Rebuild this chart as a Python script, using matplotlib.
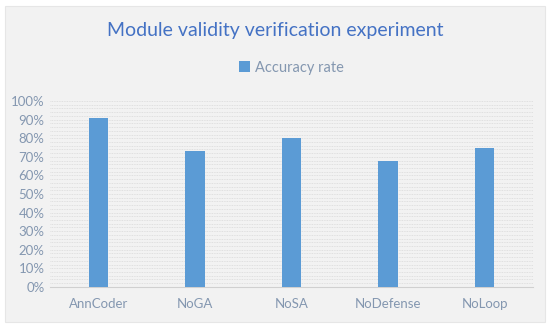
import matplotlib.pyplot as plt
from matplotlib.patches import Rectangle
import numpy as np

models = ['AnnCoder', 'NoGA', 'NoSA', 'NoDefense', 'NoLoop']
accuracy = [91, 73, 80, 68, 75]
yticks = list(range(0, 101, 10))

plt.rcParams['font.family'] = ['Lato', 'DejaVu Sans']

fig = plt.figure(figsize=(5.5, 3.26), dpi=100)
fig.patch.set_facecolor('white')
# light gray chart area with white margin
bg = Rectangle((5/550, 4/326), 540/550, 316/326, transform=fig.transFigure,
               facecolor='#f2f2f2', edgecolor='#e6e6e6', lw=0.8, zorder=-5)
fig.add_artist(bg)

ax = fig.add_axes([0.091, 0.12, 0.878, 0.57])
ax.set_facecolor('none')
x = np.arange(len(models))
ax.bar(x, accuracy, width=0.2, color='#5b9bd5', zorder=3, label='Accuracy rate')

ax.set_ylim(0, 100)
ax.set_xlim(-0.5, len(models) - 0.5)
ax.set_yticks(yticks)
ax.set_yticklabels([f'{v}%' for v in yticks])
ax.set_xticks(x)
ax.set_xticklabels(models)
ax.set_yticks(np.arange(0, 101, 2), minor=True)
ax.grid(axis='y', which='both', color='#d9d9d9', linestyle=(0, (1, 1)), lw=0.6, zorder=0)
ax.tick_params(axis='both', which='both', length=0, colors='#8497b0', labelsize=9.5)
ax.tick_params(axis='x', pad=8)
ax.tick_params(axis='y', pad=4)
for s in ['top', 'right', 'left']:
    ax.spines[s].set_visible(False)
ax.spines['bottom'].set_color('#d0d0d0')

fig.text(0.5, 0.905, 'Module validity verification experiment', ha='center', va='center',
         color='#4472c4', fontsize=14)
ax.legend(loc='center', bbox_to_anchor=(0.5, 1.18), frameon=False, fontsize=10.5,
          handlelength=0.75, handleheight=0.75, labelcolor='#8497b0', handletextpad=0.4)

fig.savefig('out.png', dpi=100)
